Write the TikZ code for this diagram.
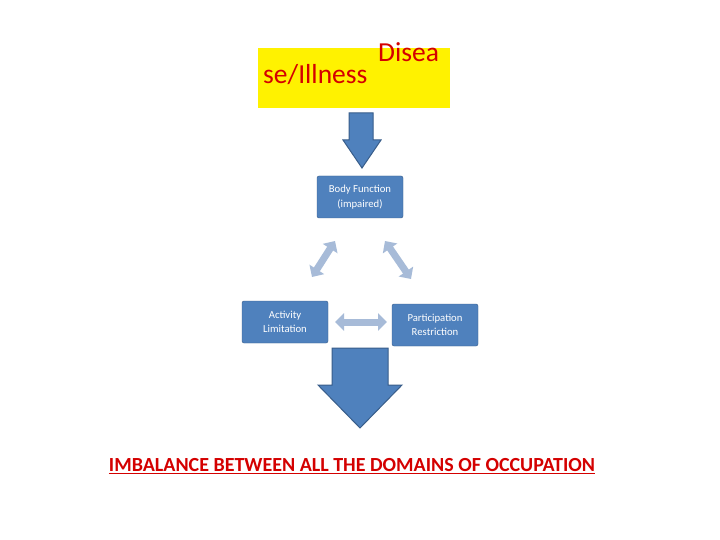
\documentclass[tikz,border=0pt]{standalone}
\usepackage{fontspec}
\setmainfont{Carlito}
\usetikzlibrary{arrows.meta}
\definecolor{boxblue}{HTML}{4F81BD}
\definecolor{boxedge}{HTML}{385D8A}
\definecolor{lightarr}{HTML}{A7BBD8}
\definecolor{txtred}{HTML}{D40000}
\tikzset{
 bx/.style={fill=boxblue,draw=boxedge,rounded corners=2pt,text=white,font=\fontsize{10.7}{15}\selectfont,align=center,inner sep=0pt,minimum width=86pt,minimum height=42pt},
 dbl/.style={draw=lightarr,line width=7pt,{Triangle[width=17pt,length=9pt]}-{Triangle[width=17pt,length=9pt]},shorten <=0pt},
 blk/.style={fill=boxblue,draw=boxedge,line width=1pt}
}
\begin{document}
\begin{tikzpicture}[x=1pt,y=-1pt]
\useasboundingbox (0,0) rectangle (720,540);
\fill[white] (0,0) rectangle (720,540);
\node[fill=yellow,minimum width=192pt,minimum height=60pt,inner sep=0pt] (ill) at (354,78) {};
\node[text=txtred,font=\fontsize{27.5}{30}\selectfont,anchor=base west,inner sep=0pt] (d1) at (378,62) {Disea};
\node[text=txtred,font=\fontsize{27.5}{30}\selectfont,anchor=base west,inner sep=0pt] (d2) at (263,84) {se/Illness};
\draw[blk] (349,113) -- (373,113) -- (373,140) -- (381,140) -- (362,168) -- (343,140) -- (349,140) -- cycle;
\node[bx] (bf) at (360,197) {Body Function\\(impaired)};
\node[bx,font=\fontsize{10.7}{13.5}\selectfont] (al) at (285,322) {Activity\\Limitation};
\node[bx,font=\fontsize{10.7}{13.5}\selectfont] (pr) at (435,325) {Participation\\Restriction};
\coordinate (a1) at (335,241); \coordinate (a2) at (312,277);
\coordinate (b1) at (385,241); \coordinate (b2) at (411,279);
\coordinate (c1) at (335,322); \coordinate (c2) at (387,322);
\draw[dbl] (a1) -- (a2);
\draw[dbl] (b1) -- (b2);
\draw[dbl] (c1) -- (c2);
\draw[blk] (332,348) -- (388,348) -- (388,385) -- (402,385) -- (360,428) -- (318,385) -- (332,385) -- cycle;
\node[text=txtred,font=\bfseries\fontsize{20}{22}\selectfont,inner sep=0pt] (imb) at (352,466) {\underline{IMBALANCE BETWEEN ALL THE DOMAINS OF OCCUPATION}};
\end{tikzpicture}
\end{document}
